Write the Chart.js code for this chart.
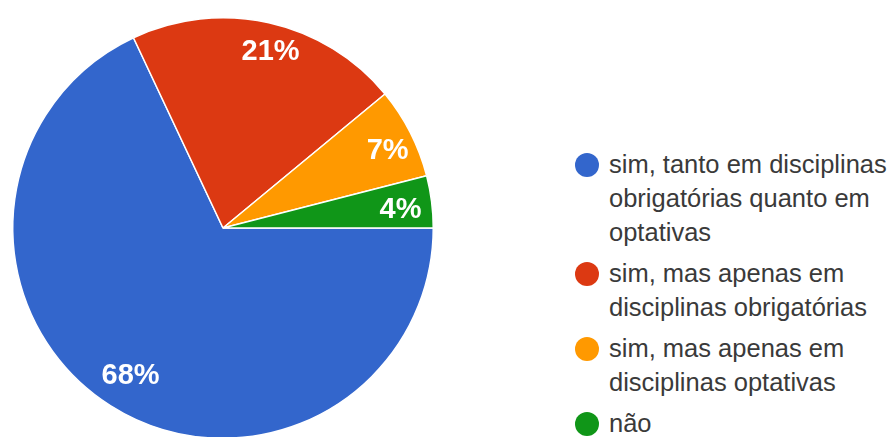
<!DOCTYPE html>
<html>
<head>
<meta charset="utf-8">
<style>
  html, body { margin: 0; padding: 0; background: #fff; overflow: hidden; }
  body { width: 896px; height: 437px; position: relative; font-family: Arial, "Liberation Sans", sans-serif; }
  #wrap { position: absolute; left: 0; top: 0; width: 450px; height: 450px; }
  #legend { position: absolute; left: 575px; top: 147px; margin: 0; padding: 0; list-style: none; }
  #legend li { position: relative; padding-left: 34px; margin-bottom: 7px; font-size: 25.5px; line-height: 34px; color: #3a3a3a; white-space: nowrap; }
  #legend .dot { position: absolute; left: 0; top: 6px; width: 24px; height: 24px; border-radius: 50%; }
</style>
</head>
<body>
<div id="wrap"><canvas id="pie" width="450" height="450"></canvas></div>
<ul id="legend"></ul>
<script src="https://cdn.jsdelivr.net/npm/chart.js@4.4.0/dist/chart.umd.min.js"></script>
<script>
// answer categories, already broken into the lines shown in the legend
const categories = [
    ['sim, tanto em disciplinas', 'obrigatórias quanto em', 'optativas'],
    ['sim, mas apenas em', 'disciplinas obrigatórias'],
    ['sim, mas apenas em', 'disciplinas optativas'],
    ['não'],
];
const shares = [68, 21, 7, 4];
const sliceColors = ['#3366cc', '#dc3912', '#ff9900', '#109618'];

// percentage text inside each slice
const sliceLabels = {
    id: 'sliceLabels',
    afterDatasetsDraw(chart, args, opts) {
        const ctx = chart.ctx;
        const data = chart.data.datasets[0].data;
        const total = data.reduce((a, b) => a + b, 0);
        const arcs = chart.getDatasetMeta(0).data;
        ctx.save();
        ctx.font = 'bold 29px Arial, "Liberation Sans", sans-serif';
        ctx.fillStyle = '#fff';
        ctx.textAlign = 'center';
        ctx.textBaseline = 'alphabetic';
        arcs.forEach((arc, i) => {
            const mid = (arc.startAngle + arc.endAngle) / 2 + (opts.shift[i] || 0);
            const r = arc.outerRadius * opts.radius[i];
            const x = arc.x + Math.cos(mid) * r;
            const y = arc.y + Math.sin(mid) * r;
            const txt = Math.round(data[i] / total * 100) + '%';
            ctx.fillText(txt, x, y + 10.5);
        });
        ctx.restore();
    }
};

const chart = new Chart(document.getElementById('pie'), {
    type: 'pie',
    data: {
        labels: categories,
        datasets: [{
            data: shares,
            backgroundColor: sliceColors,
            borderColor: '#fff',
            borderWidth: 1.5,
        }]
    },
    options: {
        responsive: false,
        animation: false,
        rotation: 90,
        events: [],
        layout: { padding: { left: 12, top: 17, right: 16, bottom: 11 } },
        plugins: {
            legend: { display: false },
            tooltip: { enabled: false },
            sliceLabels: {
                radius: [0.82, 0.88, 0.87, 0.85],
                shift: [0, 0.04, 0.02, 0.01],
            },
        }
    },
    plugins: [sliceLabels]
});

// legend beside the pie, one entry per category
const legendEl = document.getElementById('legend');
chart.data.labels.forEach((lines, i) => {
    const li = document.createElement('li');
    const dot = document.createElement('span');
    dot.className = 'dot';
    dot.style.background = sliceColors[i];
    li.appendChild(dot);
    lines.forEach((line, j) => {
        if (j) li.appendChild(document.createElement('br'));
        li.appendChild(document.createTextNode(line));
    });
    legendEl.appendChild(li);
});
</script>
</body>
</html>
